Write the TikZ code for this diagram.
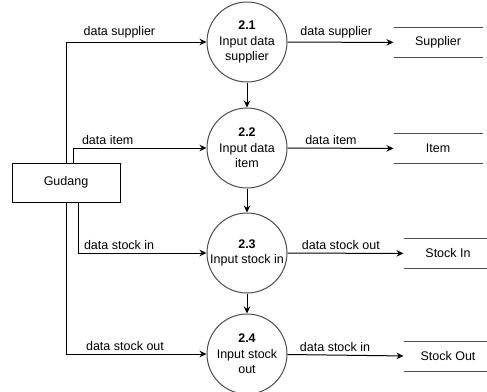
\documentclass[tikz,border=0pt]{standalone}
\usepackage{fontspec}
\setmainfont{Liberation Sans}
\usepackage{xcolor}
\usepackage{tikz}
\usetikzlibrary{arrows.meta,positioning}

\begin{document}
\begin{tikzpicture}[x=1pt,y=-1pt,line width=1pt,
  proc/.style={draw=black!70,circle,minimum size=80pt,inner sep=0pt,align=center,font=\fontsize{12.5}{15.5}\selectfont},
  entity/.style={draw,minimum width=108pt,minimum height=39pt,align=center,font=\fontsize{12.5}{15.5}\selectfont},
  store/.style={minimum width=88pt,minimum height=29pt,inner sep=0pt,font=\fontsize{12.5}{15.5}\selectfont},
  storeline/.style={draw=black!70},
  arrow/.style={-{Stealth[length=7pt,width=6.5pt]}},
  lbl/.style={above,font=\fontsize{12.5}{15.5}\selectfont}
]
\useasboundingbox (0,0) rectangle (487,391);
\node[entity] (gudang) at (66,182.5) {Gudang};
\node[proc] (p1) at (247,42) {{\bfseries 2.1}\\Input data\\supplier};
\node[proc] (p2) at (247,148) {{\bfseries 2.2}\\Input data\\item};
\node[proc] (p3) at (247,253) {{\bfseries 2.3}\\Input stock in};
\node[proc] (p4) at (247,354) {{\bfseries 2.4}\\Input stock\\out};
\node[store] (supplier) at (438,42.5) {Supplier};
\node[store] (item) at (438,148.5) {Item};
\node[store] (stockin) at (448,253.5) {Stock In};
\node[store] (stockout) at (448,356.5) {Stock Out};
\foreach \s in {supplier,item,stockin,stockout}
  \draw[storeline] (\s.north west) -- (\s.north east) (\s.south west) -- (\s.south east);
% gudang to processes
\draw[arrow] (gudang.north) |- node[lbl,pos=0.69]{data supplier} (p1.west);
\draw[arrow] ([xshift=7pt]gudang.north) |- node[lbl,pos=0.63]{data item} (p2.west);
\draw[arrow] ([xshift=12pt]gudang.south) |- node[lbl,pos=0.66]{data stock in} (p3.west);
\draw[arrow] (gudang.south) |- node[lbl,pos=0.71]{data stock out} (p4.west);
% processes to stores
\draw[arrow] (p1) -- node[lbl,pos=0.46]{data supplier} (supplier);
\draw[arrow] (p2) -- node[lbl,pos=0.41]{data item} (item);
\draw[arrow] (p3) -- node[lbl,pos=0.46]{data stock out} (stockin);
\draw[arrow] (p4) -- node[lbl,pos=0.41]{data stock in} (stockout);
% flow between processes
\draw[arrow] (p1) -- (p2);
\draw[arrow] (p2) -- (p3);
\draw[arrow] (p3) -- (p4);
\end{tikzpicture}
\end{document}
